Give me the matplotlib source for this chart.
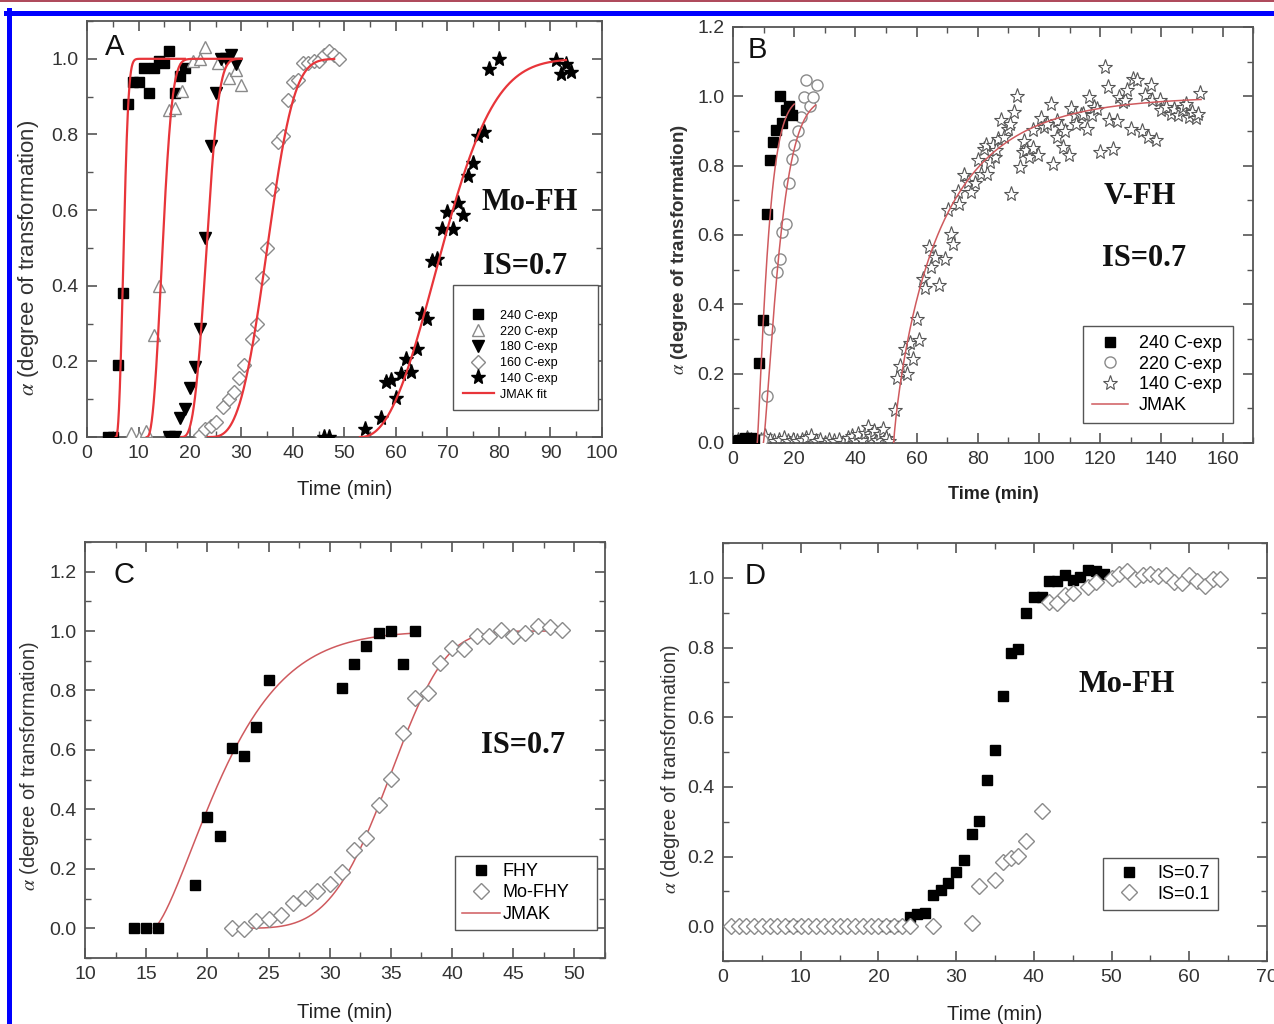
import numpy as np
import matplotlib
matplotlib.use("Agg")
import matplotlib.pyplot as plt
from matplotlib.lines import Line2D
from matplotlib.ticker import MultipleLocator, FormatStrFormatter

plt.rcParams["font.family"] = ["Liberation Sans", "DejaVu Sans"]
plt.rcParams["mathtext.fontset"] = "stix"

# ---------------- panel A : Mo-FH at several temperatures ----------------
A_240_T = [4, 5, 6, 7, 8, 9, 10, 11, 12, 13, 14, 15, 16, 17, 18, 19]
A_240_Y = [0, 0, 0.19, 0.38, 0.88, 0.94, 0.94, 0.975, 0.91, 0.975, 0.995, 0.99,
           1.02, 0.91, 0.955, 0.975]
A_220_T = [8.5, 10, 11.5, 13, 14, 16, 17, 18.5, 20.5, 22, 23, 25.5, 27.5, 29, 30]
A_220_Y = [0.01, 0.0, 0.015, 0.27, 0.40, 0.865, 0.87, 0.915, 0.995, 1.0, 1.03,
           0.99, 0.95, 0.97, 0.93]
A_180_T = [16, 17, 18, 19, 20, 21, 22, 23, 24, 25, 26, 27, 28, 29]
A_180_Y = [0, 0, 0.05, 0.075, 0.13, 0.185, 0.285, 0.525, 0.77, 0.91, 1.0, 1.0,
           1.01, 0.985]
A_160_T = [22, 23, 24, 25, 26.5, 27.5, 28.5, 29.5, 30.5, 32, 33, 34, 35, 36, 37,
           38, 39, 40, 41, 42, 43, 44, 45, 46, 47, 48, 49]
A_160_Y = [0.005, 0.02, 0.03, 0.04, 0.08, 0.10, 0.12, 0.155, 0.19, 0.26, 0.30,
           0.42, 0.50, 0.655, 0.78, 0.795, 0.89, 0.94, 0.945, 0.99, 0.99, 0.995,
           0.995, 1.01, 1.02, 1.01, 1.0]
A_140_T = [46, 47, 54, 57, 58, 59, 60, 61, 62, 63, 64, 65, 66, 67, 68, 69, 70,
           71, 72, 73, 74, 75, 76, 77, 78, 80, 91, 92, 93, 94]
A_140_Y = [0, 0, 0.02, 0.05, 0.145, 0.152, 0.104, 0.166, 0.207, 0.172, 0.232,
           0.324, 0.311, 0.465, 0.47, 0.55, 0.595, 0.55, 0.618, 0.586, 0.69,
           0.725, 0.795, 0.806, 0.972, 1.0, 0.996, 0.959, 0.985, 0.965]
# JMAK fit parameters: alpha = 1 - exp(-(k (t - t0))^n)
A_FIT_T0 = [5.6, 11.6, 18.3, 23.5, 53.0]
A_FIT_K = [0.568, 0.28, 0.18, 0.0776, 0.0534]
A_FIT_N = [2.4, 2.4, 3.0, 3.2, 2.3]
A_FIT_END = [19, 30, 30, 48, 93]

# ---------------- panel B : V-FH ----------------
B_240_T = [1, 2, 3, 4, 5, 6, 7, 8.6, 9.9, 11.2, 12.2, 13.2, 14.1, 15.2, 16.1,
           17.2, 18.2, 19.2]
B_240_Y = [0.005, 0.01, 0.01, 0.015, 0.01, 0.015, 0.01, 0.231, 0.356, 0.66,
           0.817, 0.868, 0.902, 1.0, 0.923, 0.96, 0.971, 0.945]
B_220_T = [8, 9.5, 11.2, 11.9, 14.3, 15.2, 16.1, 17.2, 18.2, 19.2, 19.8, 21.2,
           22.2, 23.1, 23.8, 25.1, 26.2, 27.5]
B_220_Y = [0.01, 0.01, 0.135, 0.33, 0.493, 0.532, 0.609, 0.631, 0.75, 0.82,
           0.859, 0.9, 0.94, 0.998, 1.048, 0.971, 0.998, 1.032]
B_140_T = [1.5, 3, 4.5, 6, 7.5, 9, 10.5, 12, 13.5, 15, 16.5, 18, 19.5, 21, 22.5,
           24, 25.5, 27, 28.5, 30, 31.5, 33, 34.5, 36, 37.5, 39, 40, 41, 42, 43,
           44, 45, 46, 47, 48, 49, 50, 51,
           52.9, 53.6, 54.6, 56.2, 56.9, 57.9, 58.8, 60.2, 60.8, 62.1, 62.8,
           63.9, 64.8, 65.9, 67.2, 69.4, 70.1, 71.1, 71.8, 73.4, 74.0, 75.4,
           76.7, 77.8, 79.0, 80.0, 80.9, 82.0, 82.8, 83.0, 84.0, 85.0, 85.7,
           86.0, 86.6, 87.7, 88.6, 89.9, 90.5, 91.0, 91.9, 92.8, 93.9, 94.9,
           95.0, 95.9, 96.8, 97.9, 98.0, 99.8, 100.8, 101.8, 102.5, 103.8,
           104.7, 105.8, 106.0, 107.1, 107.8, 108.5, 109.8, 110.4, 111.7, 112.0,
           113.7, 114.5, 115.7, 116.4, 117.4, 118.0, 119.0, 120.1, 121.7, 122.7,
           123.0, 124.3, 125.5, 126.3, 127.6, 128.0, 128.9, 130.2, 130.9, 132.2,
           133.6, 134.6, 135.5, 136.5, 137.0, 138.2, 139.5, 140.0, 141.5, 143.0,
           144.1, 145.5, 146.8, 147.0, 148.1, 149.0, 150.1, 151.4, 152.0, 152.7]
B_140_Y = [0.01, 0.005, 0.015, 0.01, 0.005, 0.01, 0.02, 0.01, 0.005, 0.01, 0.015,
           0.005, 0.01, 0.005, 0.01, 0.015, 0.02, 0.005, 0.01, 0.0, 0.01, 0.005,
           0.01, 0.0, 0.015, 0.02, 0.01, 0.025, 0.01, 0.03, 0.045, 0.02, 0.035,
           0.01, 0.025, 0.04, 0.015, 0.005,
           0.094, 0.186, 0.221, 0.272, 0.20, 0.287, 0.243, 0.359, 0.296, 0.474,
           0.448, 0.565, 0.508, 0.537, 0.455, 0.532, 0.671, 0.604, 0.575, 0.724,
           0.69, 0.772, 0.753, 0.724, 0.75, 0.815, 0.777, 0.849, 0.86, 0.777,
           0.81, 0.86, 0.825, 0.845, 0.878, 0.931, 0.883, 0.907, 0.92, 0.719,
           0.955, 1.0, 0.796, 0.839, 0.87, 0.844, 0.825, 0.902, 0.85, 0.83,
           0.936, 0.912, 0.92, 0.979, 0.806, 0.883, 0.93, 0.912, 0.854, 0.90,
           0.83, 0.965, 0.945, 0.92, 0.945, 0.95, 0.907, 0.998, 0.945, 0.97,
           0.964, 0.839, 1.085, 1.027, 0.931, 0.849, 0.93, 0.998, 0.984, 0.99,
           1.017, 0.907, 1.051, 1.046, 0.90, 1.003, 0.883, 1.032, 0.99, 0.873,
           0.988, 0.96, 0.969, 0.95, 0.964, 0.945, 0.96, 0.97, 0.979, 0.94,
           0.955, 0.936, 0.95, 1.008]
B_FIT_T0 = [7.9, 9.9, 52.5]
B_FIT_K = [0.251, 0.163, 0.0626]
B_FIT_N = [1.2, 1.27, 0.84]
B_FIT_END = [20, 27, 153]

# ---------------- panel C : FHY vs Mo-FHY ----------------
C_FHY_T = [14, 15, 16, 19, 20, 21, 22, 23, 24, 25, 31, 32, 33, 34, 35, 36, 37]
C_FHY_Y = [0, 0, 0, 0.147, 0.375, 0.312, 0.608, 0.58, 0.676, 0.835, 0.808,
           0.889, 0.95, 0.993, 1.0, 0.889, 1.0]
C_MO_T = list(range(22, 50))
C_MO_Y = [0.0, -0.003, 0.025, 0.03, 0.045, 0.086, 0.102, 0.125, 0.149, 0.19,
          0.264, 0.303, 0.416, 0.503, 0.657, 0.776, 0.793, 0.893, 0.943, 0.938,
          0.984, 0.982, 1.002, 0.982, 0.993, 1.018, 1.013, 1.002]
C_FIT_T0 = [15.6, 22.0]
C_FIT_K = [0.1425, 0.0712]
C_FIT_N = [1.44, 4.0]
C_FIT_END = [37, 49]

# ---------------- panel D : ionic strength ----------------
D_IS07_T = [9, 21, 22, 24, 25, 26, 27, 28, 29, 30, 31, 32, 33, 34, 35, 36, 37,
            38, 39, 40, 41, 42, 43, 44, 45, 46, 47, 48, 49]
D_IS07_Y = [0, 0, 0, 0.027, 0.034, 0.039, 0.09, 0.103, 0.125, 0.156, 0.19,
            0.265, 0.303, 0.419, 0.506, 0.66, 0.783, 0.795, 0.898, 0.944, 0.946,
            0.99, 0.992, 1.009, 0.994, 1.002, 1.023, 1.019, 1.01]
D_IS01_T = [1, 2, 3, 4, 5, 6, 7, 8, 9, 10, 11, 12, 13, 14, 15, 16, 17, 18, 19,
            20, 21, 22, 23, 24, 27, 32, 33, 35, 36, 37, 38, 39, 41, 42, 43, 44,
            45, 47, 48, 50, 51, 52, 53, 54, 55, 56, 57, 58, 59, 60, 61, 62, 63, 64]
D_IS01_Y = [0, 0, 0, 0, 0, 0, 0, 0, 0, 0, 0, 0, 0, 0, 0, 0, 0, 0, 0,
            0, 0, 0, 0, 0, 0, 0.01, 0.114, 0.133, 0.185, 0.195, 0.202, 0.246,
            0.33, 0.93, 0.927, 0.952, 0.956, 0.975, 0.987, 1.0, 1.01, 1.02,
            0.997, 1.007, 1.01, 1.004, 1.007, 0.987, 0.985, 1.007, 0.99, 0.978,
            0.997, 0.997]

FIT_RED = "#e8353a"
FIT_PINK = "#cf5a5e"
OPEN_GRAY = "#8a8a8a"
YLABEL = r"$\alpha$ (degree of transformation)"


def jmak(t0, k, n, t_end):
    t = np.linspace(t0, t_end, 400)
    return t, 1.0 - np.exp(-(k * (t - t0)) ** n)


def style_axes(ax, xlim, ylim, xmaj, xmin, ymaj, ymin):
    ax.set_xlim(*xlim)
    ax.set_ylim(*ylim)
    ax.xaxis.set_major_locator(MultipleLocator(xmaj))
    ax.xaxis.set_minor_locator(MultipleLocator(xmin))
    ax.yaxis.set_major_locator(MultipleLocator(ymaj))
    ax.yaxis.set_minor_locator(MultipleLocator(ymin))
    ax.yaxis.set_major_formatter(FormatStrFormatter("%.1f"))
    ax.tick_params(which="both", direction="in", top=True, right=True,
                   color="#555555", labelcolor="#333333", labelsize=14, pad=6)
    ax.tick_params(which="major", length=7, width=1.2)
    ax.tick_params(which="minor", length=4, width=1.0)
    for sp in ax.spines.values():
        sp.set_color("#555555")
        sp.set_linewidth(1.3)


def big_serif(ax, x, y, s):
    ax.text(x, y, s, ha="center", va="center", fontsize=22, fontweight="bold",
            family="Liberation Serif", color="#111111")


def boxed_legend(ax, bbox, fontsize, handles=None, labels=None, **kw):
    # square-cornered box stretched to the given width (axes fraction)
    args = () if handles is None else (handles, labels)
    leg = ax.legend(*args, loc="lower left", bbox_to_anchor=bbox, mode="expand",
                    borderaxespad=0, fontsize=fontsize, frameon=True,
                    fancybox=False, edgecolor="#555555", framealpha=1, **kw)
    leg.get_frame().set_linewidth(1.0)
    return leg


fig = plt.figure(figsize=(12.74, 10.24), dpi=100)
fig.patch.set_facecolor("white")

axA = fig.add_axes([0.0683, 0.5732, 0.4042, 0.4063])
axB = fig.add_axes([0.5754, 0.5674, 0.4082, 0.4063])
axC = fig.add_axes([0.0667, 0.0645, 0.4082, 0.4063])
axD = fig.add_axes([0.5675, 0.0615, 0.4270, 0.4082])

# ---- A ----
ax = axA
ax.plot(A_240_T, A_240_Y, "s", color="black", ms=7, label="240 C-exp", zorder=3)
ax.plot(A_220_T, A_220_Y, "^", mfc="white", mec=OPEN_GRAY, mew=1.0, ms=9,
        label="220 C-exp", zorder=3)
ax.plot(A_180_T, A_180_Y, "v", color="black", ms=9, label="180 C-exp", zorder=3)
ax.plot(A_160_T, A_160_Y, "D", mfc="white", mec=OPEN_GRAY, mew=1.0, ms=7,
        label="160 C-exp", zorder=3)
ax.plot(A_140_T, A_140_Y, "*", color="black", ms=11, label="140 C-exp", zorder=3)
for i in range(len(A_FIT_T0)):
    t, a = jmak(A_FIT_T0[i], A_FIT_K[i], A_FIT_N[i], A_FIT_END[i])
    ax.plot(t, a, color=FIT_RED, lw=1.6, zorder=4,
            label="JMAK fit" if i == 0 else None)
style_axes(ax, (0, 100), (0, 1.1), 10, 5, 0.2, 0.1)
ax.set_xlabel("Time (min)", fontsize=14.5, color="#222222", labelpad=13)
ax.set_ylabel(YLABEL, fontsize=16, color="#333333")
ax.yaxis.set_label_coords(-0.089, 0.43)
ax.text(3.5, 1.03, "A", fontsize=21, ha="left", va="center", color="#111111")
big_serif(ax, 86, 0.62, "Mo-FH")
big_serif(ax, 85, 0.45, "IS=0.7")
boxed_legend(ax, (0.711, 0.065, 0.281, 0.30), 9, handlelength=2.5,
             borderpad=0.75, labelspacing=0.3, handletextpad=0.5,
             title=" ", title_fontsize=9)

# ---- B ----
ax = axB
ax.plot(B_140_T, B_140_Y, "*", mfc="white", mec="#555555", mew=0.8, ms=11,
        label="140 C-exp", zorder=2)
ax.plot(B_220_T, B_220_Y, "o", mfc="white", mec=OPEN_GRAY, mew=1.0, ms=8,
        label="220 C-exp", zorder=3)
ax.plot(B_240_T, B_240_Y, "s", color="black", ms=7, label="240 C-exp", zorder=3)
for i in range(len(B_FIT_T0)):
    t, a = jmak(B_FIT_T0[i], B_FIT_K[i], B_FIT_N[i], B_FIT_END[i])
    ax.plot(t, a, color=FIT_PINK, lw=1.1, zorder=4,
            label="JMAK" if i == 0 else None)
style_axes(ax, (0, 170), (0, 1.2), 20, 10, 0.2, 0.1)
ax.set_xlabel("Time (min)", fontsize=13, fontweight="bold", color="#222222",
              labelpad=13)
ax.set_ylabel(YLABEL, fontsize=13.5, fontweight="bold", color="#333333")
ax.yaxis.set_label_coords(-0.083, 0.464)
ax.text(4.9, 1.134, "B", fontsize=21, ha="left", va="center", color="#111111")
big_serif(ax, 133, 0.712, "V-FH")
big_serif(ax, 134.5, 0.531, "IS=0.7")
h, l = ax.get_legend_handles_labels()
order = [l.index(s) for s in ["240 C-exp", "220 C-exp", "140 C-exp", "JMAK"]]
boxed_legend(ax, (0.673, 0.048, 0.2885, 0.24), 13,
             [h[i] for i in order], [l[i] for i in order],
             handlelength=2.0, borderpad=0.5, labelspacing=0.2,
             handletextpad=0.6)

# ---- C ----
ax = axC
ax.plot(C_FHY_T, C_FHY_Y, "s", color="black", ms=7, label="FHY", zorder=3)
ax.plot(C_MO_T, C_MO_Y, "D", mfc="white", mec=OPEN_GRAY, mew=1.0, ms=8,
        label="Mo-FHY", zorder=3)
for i in range(len(C_FIT_T0)):
    t, a = jmak(C_FIT_T0[i], C_FIT_K[i], C_FIT_N[i], C_FIT_END[i])
    ax.plot(t, a, color=FIT_PINK, lw=1.1, zorder=2,
            label="JMAK" if i == 0 else None)
style_axes(ax, (10, 52.5), (-0.1, 1.3), 5, 2.5, 0.2, 0.1)
ax.set_xlabel("Time (min)", fontsize=14.5, color="#222222", labelpad=14)
ax.set_ylabel(YLABEL, fontsize=14.5, color="#333333")
ax.yaxis.set_label_coords(-0.085, 0.4615)
ax.text(12.3, 1.19, "C", fontsize=21, ha="left", va="center", color="#111111")
big_serif(ax, 45.8, 0.614, "IS=0.7")
boxed_legend(ax, (0.7115, 0.067, 0.273, 0.17), 13, handlelength=2.1,
             borderpad=0.4, labelspacing=0.25, handletextpad=0.15)

# ---- D ----
ax = axD
ax.plot(D_IS07_T, D_IS07_Y, "s", color="black", ms=7, label="IS=0.7", zorder=2)
ax.plot(D_IS01_T, D_IS01_Y, "D", mfc="white", mec=OPEN_GRAY, mew=1.0, ms=8,
        label="IS=0.1", zorder=3)
style_axes(ax, (0, 70), (-0.1, 1.1), 10, 5, 0.2, 0.1)
ax.set_xlabel("Time (min)", fontsize=14.5, color="#222222", labelpad=13.5)
ax.set_ylabel(YLABEL, fontsize=14.5, color="#333333")
ax.yaxis.set_label_coords(-0.075, 0.459)
ax.text(2.8, 1.006, "D", fontsize=21, ha="left", va="center", color="#111111")
big_serif(ax, 52, 0.694, "Mo-FH")
boxed_legend(ax, (0.699, 0.122, 0.211, 0.12), 13, handlelength=2.0,
             borderpad=0.4, labelspacing=0.2, handletextpad=0.6)

# page frame lines
fig.add_artist(Line2D([0, 1], [1 - 0.8 / 1024] * 2, color="#a0283c", lw=1.2,
                      transform=fig.transFigure))
fig.add_artist(Line2D([6 / 1274, 1], [1 - 12.5 / 1024] * 2, color="#0000ff",
                      lw=3.6, transform=fig.transFigure))
fig.add_artist(Line2D([8.5 / 1274] * 2, [0, 1 - 10 / 1024], color="#0000ff",
                      lw=3.6, transform=fig.transFigure))

fig.savefig("out.png", dpi=100, facecolor="white")
